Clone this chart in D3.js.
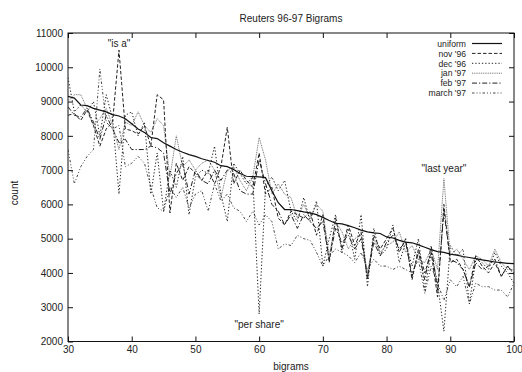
<!DOCTYPE html>
<html>
<head>
<meta charset="utf-8">
<script src="https://cdn.jsdelivr.net/npm/d3@7"></script>
<style>
  body { margin: 0; background: #fff; }
  text { font-family: "Liberation Sans", Arial, sans-serif; fill: #222; }
</style>
</head>
<body>
<div id="chart"></div>
<script>
// bigram rank 30..100
const bigrams = d3.range(30, 101);

const uniform = [9150, 9100, 8900, 8880, 8800, 8750, 8700, 8620, 8580, 8500,
  8350, 8200, 8100, 7950, 7920, 7800, 7700, 7600, 7520, 7450,
  7400, 7330, 7280, 7230, 7130, 7100, 7020, 6900, 6820, 6810,
  6800, 6780, 6400, 6050, 5850, 5850, 5820, 5780, 5750, 5700,
  5620, 5530, 5450, 5430, 5380, 5320, 5250, 5200, 5170, 5150,
  5050, 5020, 4950, 4900, 4880, 4820, 4750, 4680, 4620, 4600,
  4550, 4520, 4480, 4450, 4420, 4380, 4350, 4320, 4300, 4280, 4270];

const nov96 = [8600, 8650, 8450, 8750, 8300, 7700, 8200, 8400, 10500, 8200,
  8150, 8050, 8300, 7700, 9200, 9050, 5750, 7200, 6700, 7100,
  6900, 6700, 7000, 6600, 7100, 8250, 6600, 7000, 6700, 6500,
  7500, 6300, 6500, 5600, 5400, 5800, 5700, 5600, 5800, 5100,
  5700, 4300, 5600, 4700, 5400, 4800, 5200, 3800, 5100, 4700,
  5000, 5300, 4600, 5000, 3800, 4700, 4000, 4600, 3300, 6000,
  4300, 4400, 4100, 3600, 4500, 4200, 4000, 4300, 3900, 4200, 4000];

const dec96 = [9700, 8700, 8900, 8700, 9000, 8000, 9200, 8500, 6300, 8600,
  8700, 8000, 8400, 6300, 7500, 5800, 7000, 6500, 7400, 5700,
  6800, 7000, 6900, 7700, 6300, 5500, 7200, 6900, 6600, 6800,
  2800, 6500, 6800, 6400, 6700, 5800, 5500, 6200, 5500, 6100,
  4200, 5000, 5700, 4600, 5300, 4400, 5700, 3600, 5300, 4500,
  4700, 5400, 4300, 4900, 4200, 5000, 3500, 4600, 3700, 2300,
  4800, 4500, 4700, 3100, 4400, 4300, 4100, 4600, 4200, 4000, 3700];

const jan97 = [9000, 9200, 9200, 8800, 8300, 8500, 8800, 8300, 7600, 8400,
  8300, 8700, 8300, 8100, 8500, 8300, 6800, 8000, 7100, 7300,
  7000, 7200, 7300, 7000, 6200, 7000, 7100, 6700, 6400, 6800,
  7950, 7300, 6300, 6600, 6300, 6200, 5600, 6000, 5600, 6000,
  5800, 4500, 5500, 5200, 4700, 5000, 5100, 4000, 5000, 4600,
  4800, 4900, 5200, 4600, 4800, 4400, 4300, 4700, 4100, 6750,
  4500, 4700, 4400, 4100, 4500, 4400, 4200, 4700, 4300, 4100, 4100];

const feb97 = [8850, 8600, 8550, 8800, 8400, 7900, 8600, 8200, 7800, 7900,
  7600, 7600, 7600, 7700, 7650, 7500, 6300, 6900, 7200, 6300,
  7000, 6700, 6600, 7000, 6700, 7000, 6900, 6400, 6300, 6300,
  7300, 6600, 6000, 5800, 5400, 5700, 5300, 5700, 5500, 5300,
  5500, 4400, 5300, 4900, 5100, 4700, 5000, 3900, 4900, 4500,
  4900, 5100, 4700, 4900, 3900, 4600, 3800, 4800, 3500, 5800,
  4400, 4300, 4100, 3600, 4300, 4100, 4200, 4400, 3900, 4200, 3950];

const march97 = [7600, 6600, 7100, 7400, 7600, 9950, 8400, 8200, 8300, 7100,
  7200, 7400, 7200, 6500, 5900, 5800, 6500, 6200, 6500, 5900,
  6300, 6400, 5800, 6600, 6100, 6300, 5900, 5800, 5500, 5800,
  5400, 5700, 5500, 4700, 4850, 4800, 5100, 5000, 4950, 4600,
  4200, 4500, 4700, 4600, 4500, 4300, 4600, 4100, 4400, 4200,
  4200, 4100, 4200, 4100, 4000, 4400, 3400, 4200, 3700, 3200,
  3800, 3600, 3900, 3100, 3700, 3600, 3600, 3500, 3500, 3300, 3700];

const seriesNames = ["uniform", "nov '96", "dec '96", "jan '97", "feb '97", "march '97"];
const seriesValues = [uniform, nov96, dec96, jan97, feb97, march97];

const xTicks = [30, 40, 50, 60, 70, 80, 90, 100];
const yTicks = [2000, 3000, 4000, 5000, 6000, 7000, 8000, 9000, 10000, 11000];

const labels = [
  { x: 38, y: 10500, text: "\"is a\"", dy: -3 },
  { x: 60, y: 2800, text: "\"per share\"", dy: 14 },
  { x: 89, y: 6750, text: "\"last year\"", dy: -7 }
];

// line styles per series
const styles = [
  { dash: null, color: "#111", width: 1.2 },
  { dash: "3.5,2", color: "#222", width: 1 },
  { dash: "1.3,2", color: "#222", width: 1 },
  { dash: "1,0.8", color: "#777", width: 1 },
  { dash: "5,2,1.2,2", color: "#222", width: 1 },
  { dash: "2.5,2,1,2,1,2", color: "#333", width: 0.9 }
];

const width = 522, height = 372;
const margin = { top: 33, right: 8, bottom: 30, left: 68 };

const svg = d3.select("#chart").append("svg")
  .attr("width", width)
  .attr("height", height);

const x = d3.scaleLinear().domain([30, 100]).range([margin.left, width - margin.right]);
const y = d3.scaleLinear().domain([2000, 11000]).range([height - margin.bottom - 0.5, margin.top]);

// frame
svg.append("rect")
  .attr("x", x(30)).attr("y", y(11000))
  .attr("width", x(100) - x(30)).attr("height", y(2000) - y(11000))
  .attr("fill", "none").attr("stroke", "#111").attr("stroke-width", 1);

// axes (ticks inward, mirrored)
const tickStyle = g => {
  g.select(".domain").remove();
  g.selectAll(".tick line").attr("stroke", "#111");
  g.selectAll(".tick text").style("font-size", "10px").attr("fill", "#222");
};

svg.append("g")
  .attr("transform", `translate(0,${y(2000)})`)
  .call(d3.axisBottom(x).tickValues(xTicks).tickSizeInner(-5).tickSizeOuter(0).tickPadding(4))
  .call(tickStyle);
svg.append("g")
  .attr("transform", `translate(0,${y(11000)})`)
  .call(d3.axisTop(x).tickValues(xTicks).tickSizeInner(-5).tickSizeOuter(0).tickFormat(""))
  .call(tickStyle);
svg.append("g")
  .attr("transform", `translate(${x(30)},0)`)
  .call(d3.axisLeft(y).tickValues(yTicks).tickSizeInner(-5).tickSizeOuter(0).tickPadding(5).tickFormat(d3.format("d")))
  .call(tickStyle);
svg.append("g")
  .attr("transform", `translate(${x(100)},0)`)
  .call(d3.axisRight(y).tickValues(yTicks).tickSizeInner(-5).tickSizeOuter(0).tickFormat(""))
  .call(tickStyle);

// clip
svg.append("clipPath").attr("id", "plot-clip")
  .append("rect")
  .attr("x", x(30)).attr("y", y(11000))
  .attr("width", x(100) - x(30)).attr("height", y(2000) - y(11000));

const line = d3.line()
  .x((d, i) => x(bigrams[i]))
  .y(d => y(d));

// draw noisy series first, uniform on top
const order = [5, 4, 3, 2, 1, 0];
order.forEach(k => {
  svg.append("path")
    .datum(seriesValues[k])
    .attr("clip-path", "url(#plot-clip)")
    .attr("fill", "none")
    .attr("stroke", styles[k].color)
    .attr("stroke-width", styles[k].width)
    .attr("stroke-dasharray", styles[k].dash)
    .attr("d", line);
});

// annotations
labels.forEach(l => {
  svg.append("text")
    .attr("x", x(l.x))
    .attr("y", y(l.y) + l.dy)
    .attr("text-anchor", "middle")
    .style("font-size", "10px")
    .text(l.text);
});

// legend
const legendX = 466, legendY = 43.5, legendStep = 9.9;
seriesNames.forEach((name, k) => {
  const ly = legendY + k * legendStep;
  svg.append("text")
    .attr("x", legendX)
    .attr("y", ly + 3.2)
    .attr("text-anchor", "end")
    .style("font-size", "8.6px")
    .text(name);
  svg.append("line")
    .attr("x1", 472).attr("x2", 502)
    .attr("y1", ly).attr("y2", ly)
    .attr("stroke", styles[k].color)
    .attr("stroke-width", styles[k].width)
    .attr("stroke-dasharray", styles[k].dash);
});

// title and axis labels
svg.append("text")
  .attr("x", 291).attr("y", 22)
  .attr("text-anchor", "middle")
  .style("font-size", "10px")
  .text("Reuters 96-97 Bigrams");

svg.append("text")
  .attr("x", 291).attr("y", 370)
  .attr("text-anchor", "middle")
  .style("font-size", "10px")
  .text("bigrams");

svg.append("text")
  .attr("transform", "translate(18,193) rotate(-90)")
  .attr("text-anchor", "middle")
  .style("font-size", "10px")
  .text("count");
</script>
</body>
</html>
